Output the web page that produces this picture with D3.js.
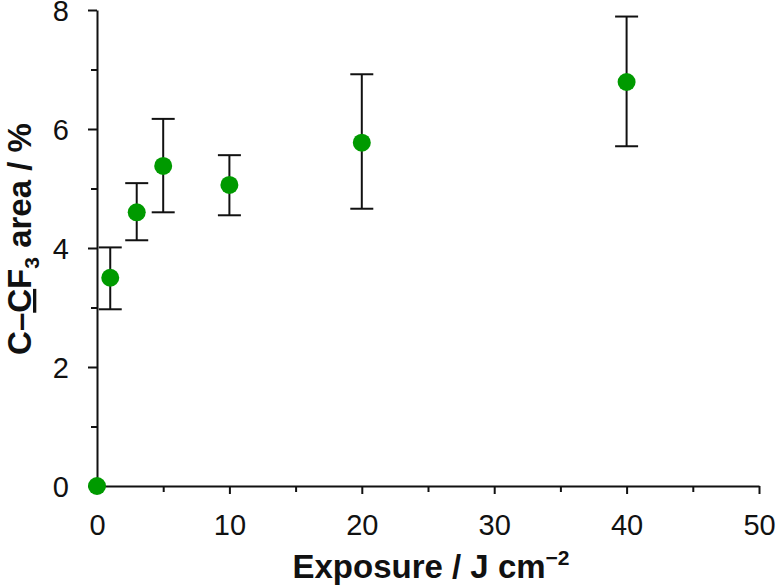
<!DOCTYPE html>
<html>
<head>
<meta charset="utf-8">
<script src="https://cdn.jsdelivr.net/npm/d3@7"></script>
<style>
  body { margin: 0; background: #fff; }
  svg text { font-family: "Liberation Sans", Arial, sans-serif; fill: #111; }
</style>
</head>
<body>
<svg id="chart" width="777" height="588"></svg>
<script>
// exposure in J cm^-2, C-CF3 area in %
const exposure = [0, 1, 3, 5, 10, 20, 40];
const area     = [0, 3.50, 4.60, 5.38, 5.06, 5.77, 6.79];
const errLow   = [0, 2.97, 4.13, 4.60, 4.55, 4.66, 5.71];
const errHigh  = [0, 4.01, 5.09, 6.17, 5.56, 6.92, 7.89];

const xMajor = [0, 10, 20, 30, 40, 50];
const xMinor = [5, 15, 25, 35, 45];
const yMajor = [0, 2, 4, 6, 8];
const yMinor = [1, 3, 5, 7];

const svg = d3.select("#chart");
const mLeft = 97, mRight = 759, mTop = 10, mBottom = 486;

const x = d3.scaleLinear().domain([0, 50]).range([mLeft, mRight]);
const y = d3.scaleLinear().domain([0, 8]).range([mBottom, mTop]);

// minor ticks first
svg.append("g").attr("transform", `translate(0,${mBottom})`)
  .call(d3.axisBottom(x).tickValues(xMinor).tickSize(6).tickFormat(""))
  .call(g => g.select(".domain").remove());
svg.append("g").attr("transform", `translate(${mLeft},0)`)
  .call(d3.axisLeft(y).tickValues(yMinor).tickSize(6).tickFormat(""))
  .call(g => g.select(".domain").remove());

const xAxis = svg.append("g").attr("transform", `translate(0,${mBottom})`)
  .call(d3.axisBottom(x).tickValues(xMajor).tickSize(8).tickSizeOuter(0).tickPadding(20));
const yAxis = svg.append("g").attr("transform", `translate(${mLeft},0)`)
  .call(d3.axisLeft(y).tickValues(yMajor).tickSize(9).tickSizeOuter(0).tickPadding(19));

svg.selectAll(".tick line, .domain").attr("stroke", "#111").attr("stroke-width", 2);
[xAxis, yAxis].forEach(a => a.selectAll("text")
  .attr("font-size", 29).attr("font-family", "Liberation Sans, Arial, sans-serif").attr("fill", "#111"));
yAxis.selectAll("text").attr("dy", "0.37em");

// error bars
const pts = exposure.map((d, i) => ({x: d, y: area[i], lo: errLow[i], hi: errHigh[i]}));
const cap = 11.5;
const eb = svg.append("g").attr("stroke", "#111").attr("stroke-width", 2);
pts.filter(d => d.hi > d.lo).forEach(d => {
  eb.append("line").attr("x1", x(d.x)).attr("x2", x(d.x)).attr("y1", y(d.lo)).attr("y2", y(d.hi));
  eb.append("line").attr("x1", x(d.x) - cap).attr("x2", x(d.x) + cap).attr("y1", y(d.lo)).attr("y2", y(d.lo));
  eb.append("line").attr("x1", x(d.x) - cap).attr("x2", x(d.x) + cap).attr("y1", y(d.hi)).attr("y2", y(d.hi));
});

// points
svg.append("g").selectAll("circle").data(pts).join("circle")
  .attr("cx", d => x(d.x)).attr("cy", d => y(d.y)).attr("r", 9)
  .attr("fill", "#009a00");

// axis titles
const xt = svg.append("text").attr("x", 431).attr("y", 578)
  .attr("text-anchor", "middle").attr("font-size", 33).attr("font-weight", "bold");
xt.append("tspan").text("Exposure / J cm");
xt.append("tspan").attr("font-size", 21).attr("dy", -13).text("\u22122");

const yt = svg.append("text").attr("transform", "translate(31,239) rotate(-90)")
  .attr("text-anchor", "middle").attr("font-size", 33).attr("font-weight", "bold");
yt.append("tspan").text("C\u2013");
yt.append("tspan").attr("text-decoration", "underline").text("C");
yt.append("tspan").text("F");
yt.append("tspan").attr("font-size", 21).attr("dy", 8).text("3");
yt.append("tspan").attr("dy", -8).text(" area / %");
</script>
</body>
</html>
